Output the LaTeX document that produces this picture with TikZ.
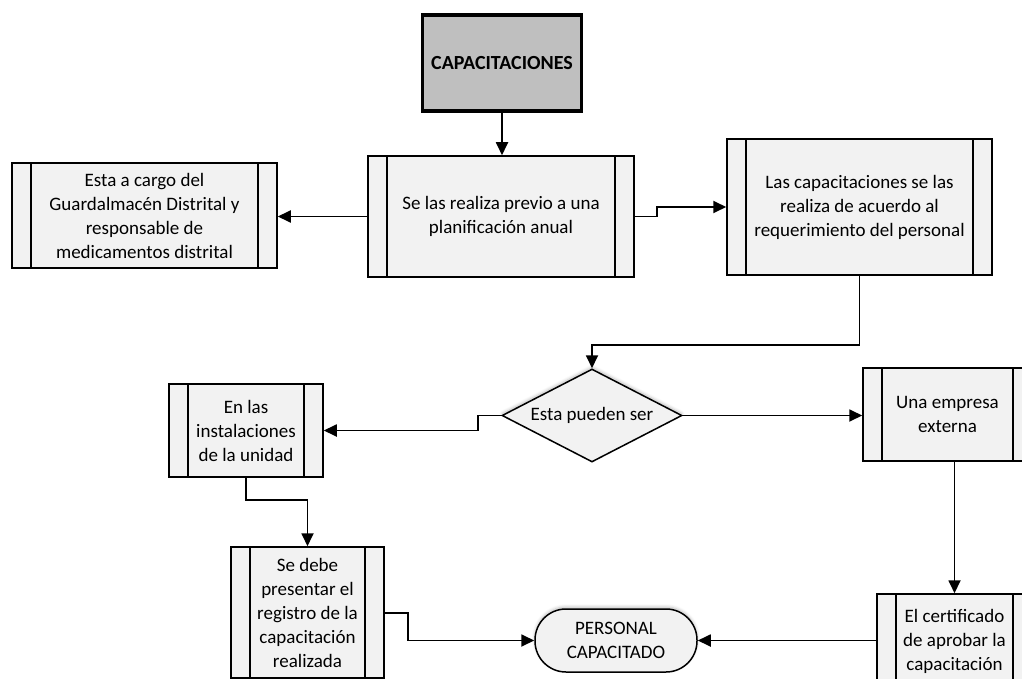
\documentclass[tikz,border=0pt]{standalone}
\usepackage{fontspec}
\setmainfont{Carlito}
\usetikzlibrary{arrows.meta,shapes.geometric,shadows.blur}
\definecolor{boxfill}{HTML}{F2F2F2}
\definecolor{capfill}{HTML}{BFBFBF}
\begin{document}
\begin{tikzpicture}[x=1pt,y=-1pt,
  font=\fontsize{19}{24}\selectfont,
  subproc/.style={draw, line width=1.5pt, fill=boxfill, align=center, inner sep=0pt,
    path picture={
      \draw[line width=1.5pt] ([xshift=19pt]path picture bounding box.north west) -- ([xshift=19pt]path picture bounding box.south west);
      \draw[line width=1.5pt] ([xshift=-19pt]path picture bounding box.north east) -- ([xshift=-19pt]path picture bounding box.south east);
    }},
  decision/.style={diamond, shape aspect=1.935, draw, line width=1.5pt, fill=boxfill, inner sep=0pt, align=center,
    blur shadow={shadow xshift=0pt, shadow yshift=2pt, shadow blur radius=3pt, shadow opacity=25, shadow blur steps=6}},
  terminal/.style={draw, line width=1.5pt, fill=boxfill, rounded corners=31pt, inner sep=0pt, align=center,
    blur shadow={shadow xshift=0pt, shadow yshift=2pt, shadow blur radius=3pt, shadow opacity=25, shadow blur steps=6}},
  startbox/.style={draw, line width=3.2pt, fill=capfill, inner sep=0pt, align=center, font=\fontsize{20}{24}\selectfont\bfseries},
  link/.style={line width=1.8pt, -{Triangle[length=13pt,width=12pt]}}
]
\useasboundingbox (0,0) rectangle (1022,679);
\clip (0,0) rectangle (1022,679);

% process boxes
\node[startbox, minimum width=159pt, minimum height=96pt] (cap) at (502,63) {CAPACITACIONES};
\node[subproc, minimum width=266pt, minimum height=121pt] (plan) at (501,216.5)
  {Se las realiza previo a una\\planificación anual};
\node[subproc, minimum width=265pt, minimum height=105pt] (cargo) at (144.5,215.5)
  {Esta a cargo del\\Guardalmacén Distrital y\\responsable de\\medicamentos distrital};
\node[subproc, minimum width=265pt, minimum height=136pt] (req) at (859.5,207)
  {Las capacitaciones se las\\realiza de acuerdo al\\requerimiento del personal};
\node[decision, minimum width=180pt, minimum height=93pt] (dec) at (592,415.5) {Esta pueden ser};
\node[subproc, minimum width=169pt, minimum height=93pt] (emp) at (947.5,414.5)
  {Una empresa\\externa};
\node[subproc, minimum width=154pt, minimum height=93pt] (inst) at (246,430.5)
  {En las\\instalaciones\\de la unidad};
\node[subproc, minimum width=153pt, minimum height=131pt] (reg) at (307.5,612.5)
  {Se debe\\presentar el\\registro de la\\capacitación\\realizada};
\node[terminal, minimum width=162pt, minimum height=63pt] (term) at (616,640.5)
  {PERSONAL\\CAPACITADO};
\node[subproc, minimum width=155pt, minimum height=94pt] (cert) at (954.5,641)
  {El certificado\\de aprobar la\\capacitación};

% connectors
\draw[link] (cap.south) -- (cap.south |- plan.north);
\draw[link] (plan.west) -- (cargo.east |- plan.west);
\draw[link] (plan.east) -- (657,216.5) -- (657,207) -- (req.west);
\draw[link] (req.south) -- (859.5,345) -- (592,345) -- (dec.north);
\draw[link] (dec.west) -- (478,415.5) -- (478,430.5) -- (inst.east);
\draw[link] (dec.east) -- (emp.west |- dec.east);
\draw[link] (inst.south) -- (246,500) -- (307.5,500) -- (reg.north);
\draw[link] (reg.east |- 0,613) -- (408,613) -- (408,640.5) -- (term.west);
\draw[link] (emp.south -| cert.north) -- (cert.north);
\draw[link] (cert.west |- term.east) -- (term.east);
\end{tikzpicture}
\end{document}
